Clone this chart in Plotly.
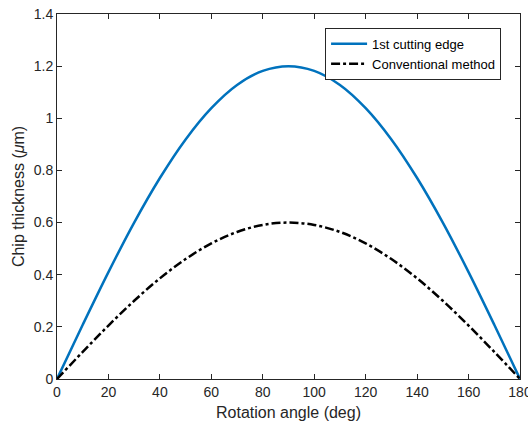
import plotly.graph_objects as go

angle_deg = [0, 10, 20, 30, 40, 50, 60, 70, 80, 90, 100, 110, 120, 130, 140, 150, 160, 170, 180]
first_edge = [0.0, 0.208, 0.410, 0.600, 0.771, 0.919, 1.039, 1.128, 1.182, 1.200,
              1.182, 1.128, 1.039, 0.919, 0.771, 0.600, 0.410, 0.208, 0.0]
conventional = [0.0, 0.104, 0.205, 0.300, 0.386, 0.460, 0.520, 0.564, 0.591, 0.600,
                0.591, 0.564, 0.520, 0.460, 0.386, 0.300, 0.205, 0.104, 0.0]

x_ticks = [0, 20, 40, 60, 80, 100, 120, 140, 160, 180]
y_ticks = [0, 0.2, 0.4, 0.6, 0.8, 1.0, 1.2, 1.4]
y_tick_text = ["0", "0.2", "0.4", "0.6", "0.8", "1", "1.2", "1.4"]

FONT = "Liberation Sans, Arial, sans-serif"

fig = go.Figure()
fig.add_trace(go.Scatter(x=angle_deg, y=first_edge, mode="lines", name="1st cutting edge",
                         line=dict(color="#0072BD", width=2.5, shape="spline")))
fig.add_trace(go.Scatter(x=angle_deg, y=conventional, mode="lines", name="Conventional method",
                         line=dict(color="black", width=2.5, dash="dashdot", shape="spline")))

axis_common = dict(showline=True, linecolor="#262626", linewidth=1, mirror="ticks",
                   ticks="inside", ticklen=5, tickcolor="#262626", showgrid=False,
                   zeroline=False, tickfont=dict(family=FONT, size=14, color="#262626"),
                   automargin=False, ticklabeloverflow="allow")

fig.update_xaxes(range=[0, 180], tickvals=x_ticks,
                 title=dict(text="Rotation angle (deg)", font=dict(family=FONT, size=16, color="#262626"), standoff=8),
                 **axis_common)
fig.update_yaxes(range=[0, 1.4], tickvals=y_ticks, ticktext=y_tick_text,
                 title=dict(text="Chip thickness (<i>μ</i>m)", font=dict(family=FONT, size=16, color="#262626"), standoff=5),
                 **axis_common)

fig.update_layout(
    width=528, height=429,
    margin=dict(l=57, r=8, t=14, b=50),
    paper_bgcolor="white", plot_bgcolor="white",
    legend=dict(x=0.579, y=0.962, xanchor="left", yanchor="top",
                bgcolor="white", bordercolor="#262626", borderwidth=1,
                font=dict(family=FONT, size=13, color="black"),
                tracegroupgap=0, itemwidth=36),
    showlegend=True,
)

fig.write_html("out.html", config={"displayModeBar": False},
               post_script="document.body.style.margin='0';document.body.style.overflow='hidden';")
